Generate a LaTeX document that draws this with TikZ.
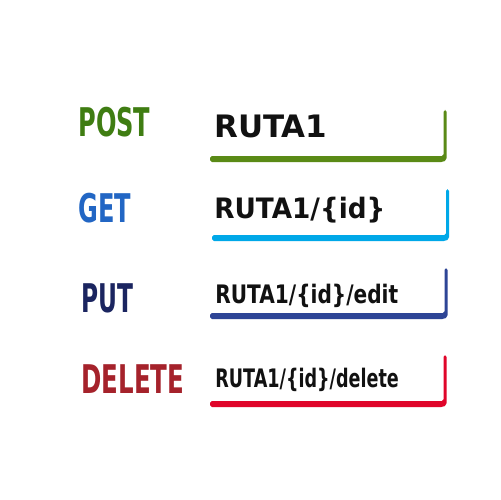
\documentclass[tikz,border=0pt]{standalone}
\usepackage{fontspec}
\usepackage{graphicx}
\setmainfont{DejaVu Sans}

\definecolor{postgreen}{HTML}{3F7D12}
\definecolor{postbar}{HTML}{5A8A16}
\definecolor{getblue}{HTML}{2266C4}
\definecolor{getbar}{HTML}{00A8E8}
\definecolor{putnavy}{HTML}{1B2560}
\definecolor{putbar}{HTML}{2E4596}
\definecolor{delred}{HTML}{A5222B}
\definecolor{delbar}{HTML}{E0052A}
\definecolor{routeink}{HTML}{111111}

\newcommand{\narrow}[2]{\scalebox{#1}[1]{#2}}
% bar: colour, left x, bottom y, right x, top y
\newcommand{\routebar}[5]{%
  \fill[#1, rounded corners=1pt] (#2,#3-3) -- (#4-1.5,#3-3) -- (#4-1.5,#5)
    -- (#4+1.5,#5) -- (#4+1.5,#3+1) -- (#4-2,#3+3) -- (#2,#3+3) -- cycle;}

\begin{document}
\begin{tikzpicture}[x=0.02cm, y=-0.02cm,
    method/.style={anchor=base west, inner sep=0pt, font=\fontsize{22.5pt}{22.5pt}\selectfont\bfseries},
    route/.style={anchor=base west, inner sep=0pt, text=routeink}]
        \useasboundingbox[fill=white] (0,0) rectangle (500,500);

        \node[method, text=postgreen] (post) at (78,136) {\narrow{0.61}{POST}};
        \node[method, text=getblue] (get) at (78,222) {\narrow{0.61}{GET}};
        \node[method, text=putnavy] (put) at (81,312) {\narrow{0.59}{PUT}};
        \node[method, text=delred] (delete) at (81,393) {\narrow{0.62}{DELETE}};

        \routebar{postbar}{210}{159}{445}{110}
        \routebar{getbar}{212}{238}{447.5}{189}
        \routebar{putbar}{210}{316}{446}{268}
        \routebar{delbar}{210}{404}{445}{355}

        \node[route, font=\fontsize{17.6pt}{17.6pt}\selectfont\bfseries] (ruta) at (214,137) {RUTA1};
        \node[route, font=\fontsize{16pt}{16pt}\selectfont\bfseries] (rutaid) at (214,218) {\narrow{0.935}{RUTA1/\{id\}}};
        \node[route, font=\fontsize{14.5pt}{14.5pt}\selectfont\bfseries] (rutaedit) at (215,303) {\narrow{0.79}{RUTA1/\{id\}/edit}};
        \node[route, font=\fontsize{14.5pt}{14.5pt}\selectfont\bfseries] (rutadel) at (215,387) {\narrow{0.69}{RUTA1/\{id\}/delete}};
\end{tikzpicture}
\end{document}
